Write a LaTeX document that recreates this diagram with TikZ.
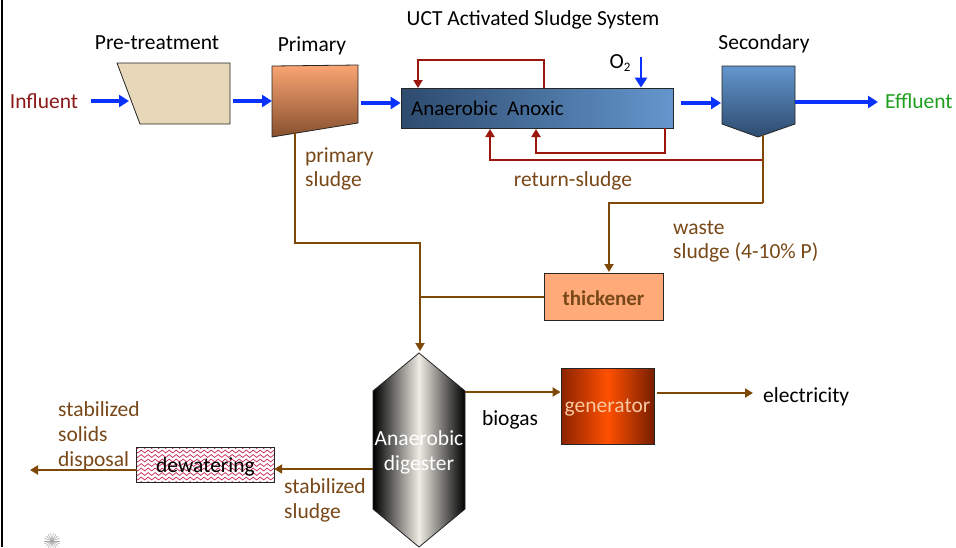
\documentclass[tikz,border=0pt]{standalone}
\usepackage{fontspec}
\setmainfont{Carlito}
\usetikzlibrary{arrows.meta,decorations.pathmorphing}
\definecolor{fblue}{RGB}{10,50,255}
\definecolor{lred}{RGB}{155,22,12}
\definecolor{lbrown}{RGB}{126,72,6}
\definecolor{tbrown}{RGB}{120,72,24}
\definecolor{infred}{RGB}{140,24,24}
\definecolor{effgreen}{RGB}{30,160,30}
\definecolor{pretan}{RGB}{230,216,184}
\definecolor{prtop}{RGB}{250,165,115}
\definecolor{prbot}{RGB}{135,80,45}
\definecolor{bdark}{RGB}{45,75,110}
\definecolor{blight}{RGB}{100,150,205}
\definecolor{thkfill}{RGB}{255,170,120}
\definecolor{digmid}{RGB}{238,236,228}
\definecolor{gdark}{RGB}{140,35,0}
\definecolor{gdark2}{RGB}{120,30,0}
\definecolor{gmid}{RGB}{255,80,0}
\definecolor{gtext}{RGB}{250,200,160}
\definecolor{wave}{RGB}{200,40,80}
\begin{document}
\begin{tikzpicture}[x=1pt,y=-1pt,
  txt/.style={font=\fontsize{21.5}{24.8}\selectfont, inner sep=0pt, align=left},
  barrow/.style={draw=fblue, line width=3.6pt, -{Triangle[length=10pt,width=12pt]}},
  rarrow/.style={draw=lred, line width=2.4pt, -{Triangle[length=8pt,width=9pt]}},
  rline/.style={draw=lred, line width=2.4pt},
  brarrow/.style={draw=lbrown, line width=2.4pt, -{Triangle[length=8pt,width=9pt]}},
  brline/.style={draw=lbrown, line width=2.4pt},
  outl/.style={draw=black!85, line width=0.8pt}]
\useasboundingbox (0,0) rectangle (956,547);
\fill[white] (0,0) rectangle (956,547);
\draw[line width=1.6pt] (2,0) -- (2,547);

% ---------- titles ----------
\node[txt] (ttl) at (533,20) {UCT Activated Sludge System};
\node[txt] (tpre) at (157,43) {Pre-treatment};
\node[txt] (tpri) at (312,46) {Primary};
\node[txt] (tsec) at (764,44) {Secondary};

% ---------- pre-treatment ----------
\fill[pretan, draw=black!85, line width=0.8pt] (117,63) -- (230,63) -- (230,124) -- (140,124) -- cycle;
\coordinate (preL) at (129,101);
\coordinate (preR) at (230,101);
% ---------- primary ----------
\shade[top color=prtop, bottom color=prbot] (272,66) -- (358,65) -- (358,123) -- (272,137) -- cycle;
\draw[outl] (272,66) -- (358,65) -- (358,123) -- (272,137) -- cycle;
\coordinate (priL) at (272,101);
\coordinate (priR) at (358,103);
\coordinate (priB) at (295,133);

% ---------- UCT ----------
\node[outl, minimum width=272pt, minimum height=40pt, inner sep=0pt,
  left color=bdark, right color=blight] (uct) at (537,108) {};
\node[txt, anchor=west, font=\fontsize{21}{24}\selectfont] (uctt) at (411,108) {Anaerobic\ \ Anoxic};
\node[txt] (o2) at (620,63) {O\raisebox{-0.35ex}{\fontsize{13}{13}\selectfont 2}};
\coordinate (o2s) at (641,57);

% ---------- secondary ----------
\shade[top color=blight, bottom color=bdark] (722,66) -- (795,66) -- (795,124) -- (758,137) -- (722,124) -- cycle;
\draw[outl] (722,66) -- (795,66) -- (795,124) -- (758,137) -- (722,124) -- cycle;
\coordinate (secL) at (721,103);
\coordinate (secR) at (795,102);
\coordinate (secB) at (763,135);

\node[txt, text=infred] (infl) at (44,101) {Influent};
\node[txt, text=effgreen, anchor=west] (effl) at (885,101) {Effluent};

% ---------- blue flow ----------
\draw[barrow] ([xshift=13pt]infl.east |- preL) -- (preL);
\draw[barrow] ([xshift=3pt]preR) -- (priL);
\draw[barrow] ([xshift=3pt]priR) -- (uct.west |- priR);
\draw[barrow] ([xshift=8pt]uct.east |- secL) -- (secL);
\draw[barrow] (secR) -- ([xshift=-7pt]effl.west |- secR);
\draw[barrow, line width=2.6pt] (o2s) -- (o2s |- uct.north);

% ---------- red loops ----------
\draw[rarrow] (544,88) -- (544,60) -- (418,60) -- (418,88);
\draw[rarrow] (665,128) -- (665,153) -- (536,153) -- (536,129);
\draw[rarrow] (763,160) -- (490,160) -- (490,129);
\node[txt, text=tbrown] (rsl) at (573,181) {return-sludge};

% ---------- thickener ----------
\node[outl, fill=thkfill, minimum width=119pt, minimum height=47pt, inner sep=0pt] (thk) at (603.5,297) {};
\node[txt, text=tbrown, font=\bfseries\fontsize{21}{24}\selectfont] (thkt) at (603.5,298) {thickener};

% ---------- brown lines ----------
\draw[brline] (secB) -- (763,203);
\draw[brarrow] (763,203) -- (609,203) -- (609,272);
\node[txt, text=tbrown, anchor=west] (wsl) at (673,241.5) {waste\\sludge (4-10\% P)};
\draw[brarrow] (priB) -- (295,243) -- (420,243) -- (420,351);
\draw[brline] (thk.west) -- (thk.west -| 420,0);
\node[txt, text=tbrown, anchor=west] (psl) at (305,169) {primary\\sludge};

% ---------- digester ----------
\shade[left color=black, right color=black, middle color=digmid] (419,353) -- (465,391) -- (465,509) -- (419,547) -- (373,509) -- (373,391) -- cycle;
\draw[outl] (419,353) -- (465,391) -- (465,509) -- (419,547) -- (373,509) -- (373,391) -- cycle;
\coordinate (digR) at (465,392);
\coordinate (digL) at (373,469);
\node[txt, text=white, align=center] (digt) at (419,452) {Anaerobic\\digester};

% ---------- generator ----------
\node[outl, minimum width=93pt, minimum height=76pt, inner sep=0pt,
  left color=gdark, right color=gdark2, middle color=gmid] (gen) at (607.5,406) {};
\node[txt, text=gtext] (gent) at (607.5,408) {generator};
\draw[brarrow] (digR) -- (digR -| gen.west);
\node[txt] (bio) at (510,420) {biogas};
\node[txt, anchor=west] (elec) at (763,397) {electricity};
\draw[brarrow] ([xshift=3pt]gen.east |- 0,393) -- ([xshift=-10pt]elec.west |- 0,393);

% ---------- dewatering ----------
\node[minimum width=137pt, minimum height=34pt, inner sep=0pt, fill=white] (dew) at (205.5,465) {};
\begin{scope}
  \clip (dew.south west) rectangle (dew.north east);
  \foreach \yy in {447,451.5,...,486} {
    \draw[wave, line width=0.7pt, decorate, decoration={snake, amplitude=1.4pt, segment length=7pt}] (132,\yy) -- (282,\yy);
  }
\end{scope}
\draw[outl] (dew.south west) rectangle (dew.north east);
\node[txt] (dewt) at (205.5,467) {dewatering};
\draw[brarrow] (digL) -- (digL -| dew.east);
\draw[brarrow] (dew.west |- 0,470) -- (30,470);
\node[txt, text=tbrown, anchor=west] (ssl) at (284,500.5) {stabilized\\sludge};
\node[txt, text=tbrown, anchor=west] (ssd) at (58,436) {stabilized\\solids\\disposal};

% ---------- star ----------
\foreach \a in {0,20,...,340} {
  \draw[gray!70, line width=0.5pt] (52,541) -- ++(\a:8pt);
}
\end{tikzpicture}
\end{document}
